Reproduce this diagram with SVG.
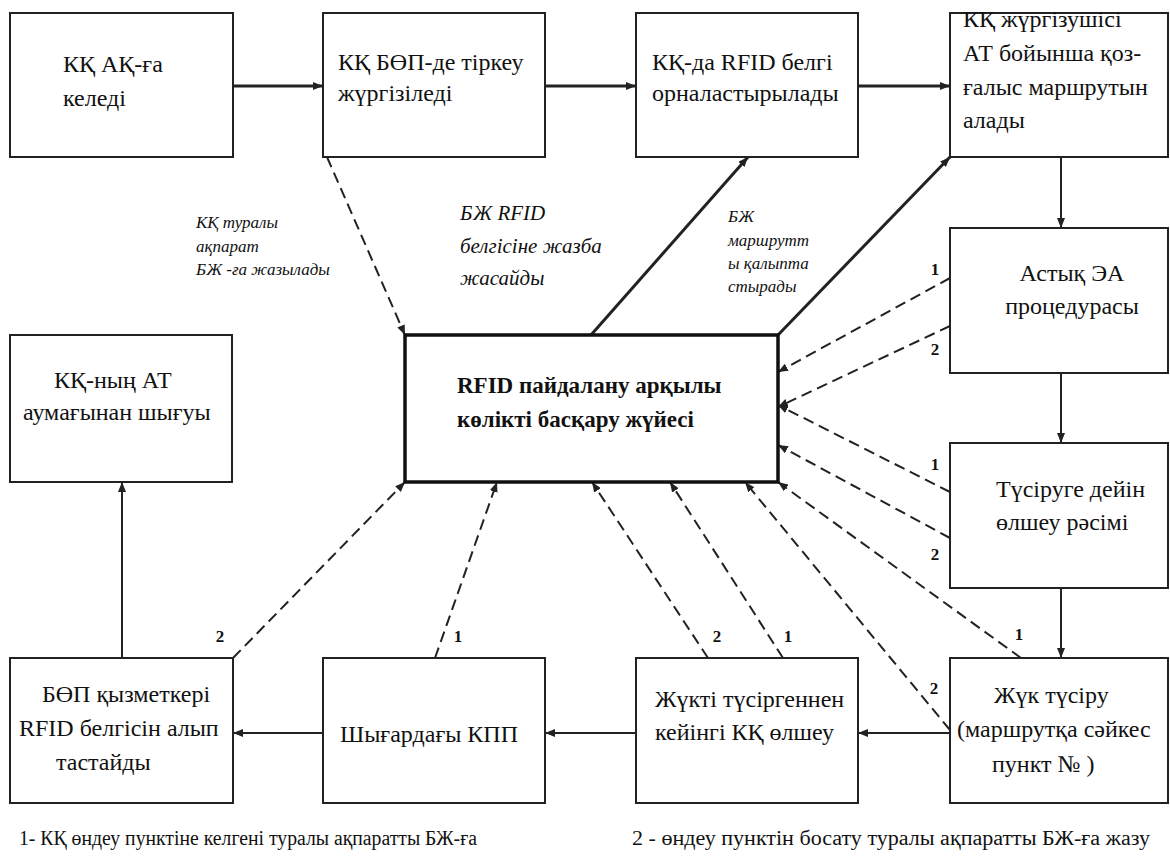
<svg xmlns="http://www.w3.org/2000/svg" width="1170" height="856" viewBox="0 0 1170 856" font-family="'Liberation Serif', 'DejaVu Serif', serif">
<style>
.box{fill:#fff;stroke:#222;stroke-width:2}
.main{fill:#fff;stroke:#111;stroke-width:3.5}
.t,.b,.i,.i2,.n,.leg{font-family:'Liberation Serif','DejaVu Serif',serif;fill:#111}
.t{font-size:24px}
.b{font-size:23px;font-weight:bold}
.i{font-style:italic;font-size:17px}
.i2{font-style:italic;font-size:21px}
.n{font-size:17px;font-weight:bold}
.leg{font-size:20px}
.s{stroke:#222;fill:none;stroke-width:2}
.s3{stroke:#222;fill:none;stroke-width:3}
.d{stroke:#222;fill:none;stroke-width:2;stroke-dasharray:11 6}
</style>
<defs>
<marker id="ah" viewBox="0 0 10 8" refX="10" refY="4" markerWidth="10" markerHeight="8" markerUnits="userSpaceOnUse" orient="auto"><path d="M0,0L10,4L0,8z" fill="#222"/></marker>
</defs>
<rect width="1170" height="856" fill="#fff"/>

<g id="connectors">
<g class="s3" marker-end="url(#ah)">
<path d="M233,86H323"/>
<path d="M545,86H636"/>
<path d="M858,86H950"/>
<path d="M591,335L748,157"/>
<path d="M778,335L950,157"/>
</g>
<g class="s" marker-end="url(#ah)">
<path d="M1061,157V228"/>
<path d="M1061,373V443"/>
<path d="M1061,588V658"/>
<path d="M950,733H858"/>
<path d="M636,733H545"/>
<path d="M323,733H233"/>
<path d="M122,658V482"/>
</g>
<g class="d" marker-end="url(#ah)">
<path d="M327,157L405,335"/>
<path d="M950,278L778,372"/>
<path d="M950,326L778,407"/>
<path d="M950,492L778,405"/>
<path d="M950,538L778,445"/>
<path d="M1021,658L778,482"/>
<path d="M950,730L745,482"/>
<path d="M783,658L670,482"/>
<path d="M708,658L592,482"/>
<path d="M435,658L497,482"/>
<path d="M233,658L405,482"/>
</g>
<g class="n" text-anchor="middle">
<text x="935" y="275">1</text>
<text x="935" y="355">2</text>
<text x="935" y="470">1</text>
<text x="935" y="560">2</text>
<text x="1019" y="640">1</text>
<text x="934" y="694">2</text>
<text x="717" y="642">2</text>
<text x="788" y="642">1</text>
<text x="458" y="642">1</text>
<text x="220" y="642">2</text>
</g>
<g class="i">
<text x="196" y="228">КҚ туралы</text>
<text x="196" y="252">ақпарат</text>
<text x="196" y="275">БЖ -ға жазылады</text>
<text x="728" y="222">БЖ</text>
<text x="728" y="246">маршрутт</text>
<text x="728" y="269">ы қалыпта</text>
<text x="728" y="292">стырады</text>
</g>
<g class="i2">
<text x="460" y="220">БЖ RFID</text>
<text x="460" y="253">белгісіне жазба</text>
<text x="460" y="285">жасайды</text>
</g>
</g>

<g id="n1"><rect class="box" x="10" y="13" width="223" height="144"/>
<text class="t" x="63" y="72">КҚ АҚ-ға</text><text class="t" x="63" y="106">келеді</text></g>
<g id="n2"><rect class="box" x="323" y="13" width="222" height="144"/>
<text class="t" x="338" y="70">КҚ БӨП-де тіркеу</text><text class="t" x="338" y="101">жүргізіледі</text></g>
<g id="n3"><rect class="box" x="636" y="13" width="222" height="144"/>
<text class="t" x="652" y="70">КҚ-да RFID белгі</text><text class="t" x="652" y="101">орналастырылады</text></g>
<g id="n4"><rect class="box" x="950" y="13" width="218" height="144"/>
<text class="t" x="963" y="27">КҚ жүргізушісі</text><text class="t" x="963" y="61">АТ бойынша қоз-</text><text class="t" x="963" y="95">ғалыс маршрутын</text><text class="t" x="963" y="128">алады</text></g>
<g id="n5"><rect class="box" x="950" y="228" width="218" height="145"/>
<text class="t" x="1072" y="281" text-anchor="middle">Астық ЭА</text><text class="t" x="1072" y="314" text-anchor="middle">процедурасы</text></g>
<g id="n6"><rect class="box" x="950" y="443" width="218" height="145"/>
<text class="t" x="996" y="497">Түсіруге дейін</text><text class="t" x="996" y="530">өлшеу рәсімі</text></g>
<g id="n7"><rect class="box" x="950" y="658" width="218" height="145"/>
<text class="t" x="994" y="703">Жүк түсіру</text><text class="t" x="957" y="737">(маршрутқа сәйкес</text><text class="t" x="992" y="772">пункт № )</text></g>
<g id="n8"><rect class="box" x="636" y="658" width="222" height="145"/>
<text class="t" x="655" y="707">Жүкті түсіргеннен</text><text class="t" x="655" y="740">кейінгі КҚ өлшеу</text></g>
<g id="n9"><rect class="box" x="323" y="658" width="222" height="145"/>
<text class="t" x="340" y="742">Шығардағы КПП</text></g>
<g id="n10"><rect class="box" x="10" y="658" width="223" height="145"/>
<text class="t" x="42" y="702">БӨП қызметкері</text><text class="t" x="19" y="736">RFID белгісін алып</text><text class="t" x="56" y="770">тастайды</text></g>
<g id="n11"><rect class="box" x="10" y="335" width="222" height="147"/>
<text class="t" x="54" y="388">КҚ-ның АТ</text><text class="t" x="23" y="420">аумағынан шығуы</text></g>
<g id="center"><rect class="main" x="405" y="335" width="373" height="147"/>
<text class="b" x="457" y="393">RFID пайдалану арқылы</text><text class="b" x="457" y="427">көлікті басқару жүйесі</text></g>

<g id="legend">
<text class="leg" x="19" y="845" textLength="458" lengthAdjust="spacingAndGlyphs">1- КҚ өндеу пунктіне келгені туралы ақпаратты БЖ-ға</text>
<text class="leg" x="632" y="845" textLength="518" lengthAdjust="spacingAndGlyphs">2 - өндеу пунктін босату туралы ақпаратты БЖ-ға жазу</text>
</g>
</svg>
